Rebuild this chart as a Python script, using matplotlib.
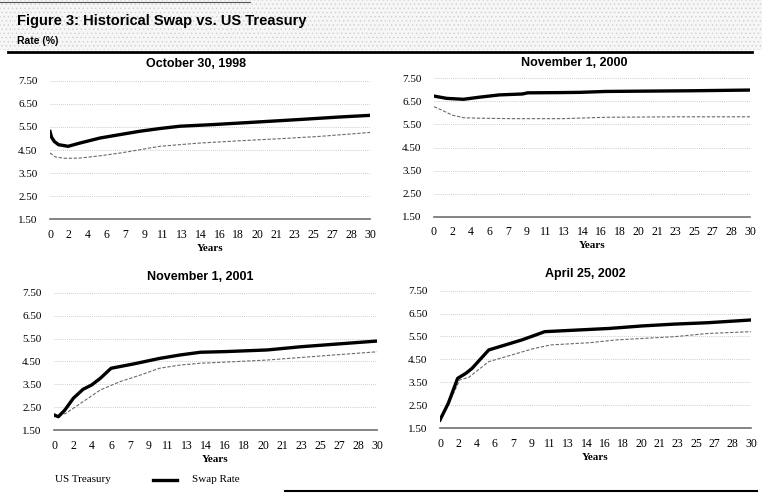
import numpy as np
import matplotlib as mpl
mpl.use('Agg')
import matplotlib.pyplot as plt
from matplotlib.lines import Line2D
from matplotlib.patches import Rectangle

W, H = 762, 493

# x axis labels (evenly spaced over 0..30 years)
x_tick_labels = ['0', '2', '4', '6', '7', '9', '11', '13', '14', '16', '18', '20',
                 '21', '23', '25', '27', '28', '30']
y_ticks = [1.5, 2.5, 3.5, 4.5, 5.5, 6.5, 7.5]

# October 30, 1998
oct98_swap_x = [0, 0.15, 0.4, 0.8, 1.7, 2.8, 4.7, 6.6, 8.4, 10.3, 12.2, 15.3, 19, 23.4, 27.2, 30]
oct98_swap = [5.30, 5.05, 4.87, 4.73, 4.66, 4.80, 5.02, 5.17, 5.31, 5.43, 5.53, 5.60, 5.70, 5.82, 5.93, 6.00]
oct98_tsy_x = [0, 0.5, 1.4, 2.8, 4.7, 6.6, 8.4, 10.3, 14, 17.8, 21.6, 25.3, 30]
oct98_tsy = [4.37, 4.20, 4.14, 4.15, 4.25, 4.37, 4.51, 4.66, 4.80, 4.90, 4.99, 5.09, 5.26]

# November 1, 2000
nov00_swap_x = [0, 1.2, 2.8, 4.3, 6.2, 8.4, 8.9, 11.9, 13.8, 16.3, 24.5, 30]
nov00_swap = [6.73, 6.63, 6.59, 6.68, 6.78, 6.82, 6.87, 6.88, 6.89, 6.93, 6.96, 6.99]
nov00_tsy_x = [0, 0.7, 1.7, 2.8, 4.3, 7.5, 12.2, 16.3, 22.9, 30]
nov00_tsy = [6.27, 6.13, 5.91, 5.79, 5.77, 5.75, 5.75, 5.81, 5.83, 5.83]

# November 1, 2001
nov01_swap_x = [0, 0.4, 1.0, 1.8, 2.7, 3.5, 4.3, 5.3, 7.4, 9.8, 11.7, 13.6, 16, 19.8, 22.9, 30]
nov01_swap = [2.16, 2.08, 2.37, 2.89, 3.28, 3.47, 3.76, 4.20, 4.39, 4.63, 4.78, 4.90, 4.93, 5.00, 5.14, 5.39]
nov01_tsy_x = [0, 1.1, 2.7, 4.3, 6.1, 8.0, 9.8, 11.7, 13.6, 16, 19.8, 26, 30]
nov01_tsy = [2.08, 2.23, 2.74, 3.25, 3.61, 3.90, 4.20, 4.34, 4.42, 4.47, 4.56, 4.78, 4.92]

# April 25, 2002
apr02_swap_x = [0, 0.8, 1.7, 2.5, 3.1, 4.7, 6.3, 7.9, 9.2, 10.1, 13.2, 16.3, 19.5, 22.6, 25.8, 30]
apr02_swap = [1.85, 2.58, 3.67, 3.89, 4.11, 4.91, 5.13, 5.35, 5.56, 5.71, 5.78, 5.85, 5.96, 6.04, 6.10, 6.22]
apr02_tsy_x = [0, 0.9, 1.9, 2.8, 4.7, 6.9, 9.1, 10.7, 14.5, 17, 22.6, 25.8, 30]
apr02_tsy = [1.78, 2.62, 3.60, 3.72, 4.40, 4.69, 4.98, 5.13, 5.23, 5.35, 5.49, 5.63, 5.71]

serif = 'Liberation Serif'
sans = 'Liberation Sans'

fig = plt.figure(figsize=(W / 100.0, H / 100.0), dpi=100)

def px(x, y):
    return x / W, 1 - y / H

# header band with halftone look
mpl.rcParams['hatch.linewidth'] = 0.5
fig.add_artist(Rectangle((0, 1 - 50 / H), 1, 50 / H, transform=fig.transFigure,
                         facecolor='#f6f6f6', edgecolor='#cfcfcf', hatch='....', lw=0))
fig.add_artist(Line2D([0, 250 / W], [1 - 1.5 / H] * 2, transform=fig.transFigure, color='#555555', lw=0.8))
fig.add_artist(Line2D([8 / W, 752 / W], [1 - 52 / H] * 2, transform=fig.transFigure, color='black', lw=2.0))
fig.text(*px(17, 21), 'Figure 3: Historical Swap vs. US Treasury', family=sans, weight='bold',
         fontsize=10.5, va='center', ha='left')
fig.text(*px(17, 41), 'Rate (%)', family=sans, weight='bold', fontsize=7.5, va='center', ha='left')

panels = [
    ('October 30, 1998', (50, 370, 80.7, 219.3), 196, 64,
     oct98_swap_x, oct98_swap, oct98_tsy_x, oct98_tsy),
    ('November 1, 2000', (434, 750, 78.3, 216.7), 574, 63,
     nov00_swap_x, nov00_swap, nov00_tsy_x, nov00_tsy),
    ('November 1, 2001', (54, 377, 292.8, 430), 200, 277,
     nov01_swap_x, nov01_swap, nov01_tsy_x, nov01_tsy),
    ('April 25, 2002', (440, 751, 290.7, 428), 585, 274,
     apr02_swap_x, apr02_swap, apr02_tsy_x, apr02_tsy),
]

xpos = np.linspace(0, 30, len(x_tick_labels))

for title, (x0, x1, yt, yb), tx, ty, sx, sv, tx_, tv in panels:
    ax = fig.add_axes([x0 / W, 1 - yb / H, (x1 - x0) / W, (yb - yt) / H])
    ax.set_xlim(0, 30)
    ax.set_ylim(1.5, 7.5)
    for s in ax.spines.values():
        s.set_visible(False)
    # faint dotted gridlines
    for yv in y_ticks[1:]:
        ax.axhline(yv, color='#bcbcbc', lw=0.6, linestyle=(0, (1, 1.5)), zorder=0)
    ax.axhline(1.5, color='#707070', lw=1.2, clip_on=False, zorder=1)
    ax.plot(tx_, tv, color='#6a6a6a', lw=0.8, linestyle=(0, (3, 1.5)), zorder=2)
    ax.plot(sx, sv, color='black', lw=2.4, solid_joinstyle='round', zorder=3)
    ax.set_yticks(y_ticks)
    ax.set_yticklabels(['%.2f' % v for v in y_ticks], family=serif, fontsize=8)
    ax.set_xticks(xpos)
    ax.set_xticklabels(x_tick_labels, family=serif, fontsize=8.5)
    ax.tick_params(axis='y', length=0, pad=9)
    ax.tick_params(axis='x', length=0, pad=7)
    ax.set_xlabel('Years', family=serif, weight='bold', fontsize=8, labelpad=2)
    fig.text(*px(tx, ty), title, family=sans, weight='bold', fontsize=9, ha='center', va='center')

# legend
fig.text(*px(55, 480), 'US Treasury', family=serif, fontsize=8, va='center', ha='left')
fig.add_artist(Line2D([153 / W, 177 / W], [1 - 480 / H] * 2, transform=fig.transFigure, color='black', lw=2.4))
fig.text(*px(192, 479), 'Swap Rate', family=serif, fontsize=8, va='center', ha='left')

# rule at the bottom
fig.add_artist(Line2D([285 / W, 757 / W], [1 - 491 / H] * 2, transform=fig.transFigure, color='black', lw=1.5))

fig.savefig('out.png', dpi=100)
